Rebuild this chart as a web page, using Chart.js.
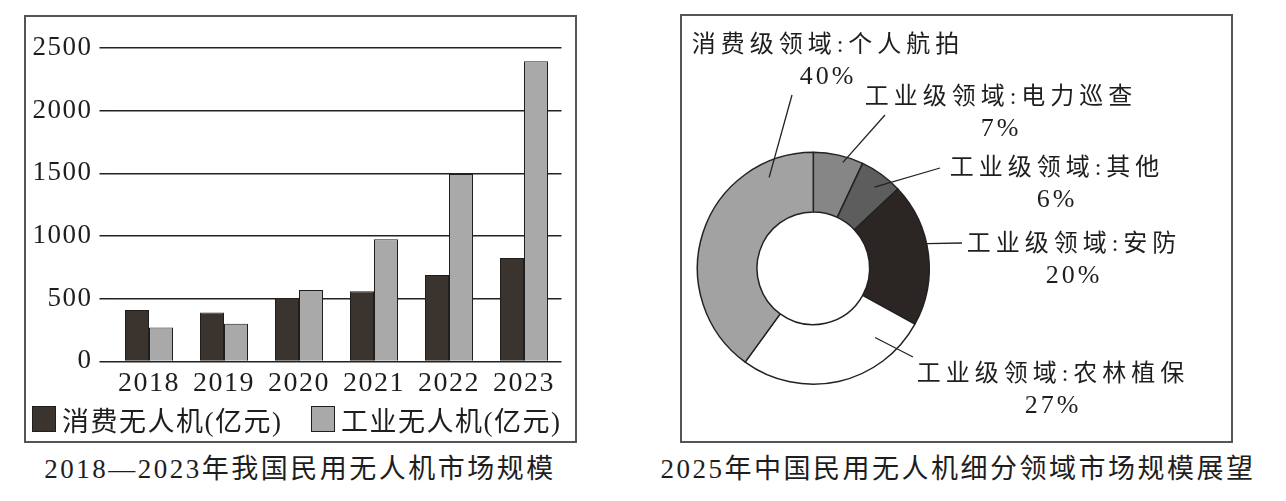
<!DOCTYPE html>
<html lang="zh-CN">
<head>
<meta charset="utf-8">
<title>民用无人机市场规模</title>
<script src="https://cdn.jsdelivr.net/npm/chart.js@4.4.1/dist/chart.umd.min.js"></script>
<style>
  html, body { margin: 0; padding: 0; background: #fff; }
  body { position: relative; width: 1286px; height: 501px; overflow: hidden; }
  .frame { position: absolute; box-sizing: border-box; border: 2px solid #555; }
  #barFrame { left: 24px; top: 15px; width: 553px; height: 428px; }
  #pieFrame { left: 680px; top: 14px; width: 553px; height: 429px; }
  canvas { position: absolute; }
  #barChart { left: 26px; top: 17px; }
  #pieChart { left: 682px; top: 16px; }
  #barLegend { position: absolute; left: 32px; top: 403px; display: flex; }
  #barLegend .item { width: 279px; height: 32px; display: flex; align-items: center; white-space: nowrap; }
  #barLegend .swatch { box-sizing: border-box; width: 24px; height: 26px; border: 1px solid; margin-right: 6px; }
  #barLegend .text, .caption {
    color: #1e1e1e; font: 27px "Liberation Serif", "Noto Sans CJK SC", serif;
  }
  #barLegend .text { letter-spacing: 1.5px; }
  .caption {
    position: absolute; top: 453px; height: 32px; line-height: 32px;
    text-align: center; white-space: nowrap; letter-spacing: 2.5px;
  }
  #barCaption { left: 0; width: 600px; }
  #pieCaption { left: 558px; width: 800px; }
</style>
</head>
<body>
<div class="frame" id="barFrame"></div>
<div class="frame" id="pieFrame"></div>
<canvas id="barChart" width="549" height="390"></canvas>
<div id="barLegend"></div>
<canvas id="pieChart" width="549" height="425"></canvas>
<div class="caption" id="barCaption">2018—2023年我国民用无人机市场规模</div>
<div class="caption" id="pieCaption">2025年中国民用无人机细分领域市场规模展望</div>

<script>
// bar chart data
const years = ["2018", "2019", "2020", "2021", "2022", "2023"]
const consumerValues = [410, 390, 500, 560, 690, 825]
const industrialValues = [270, 300, 570, 975, 1495, 2395]
const seriesNames = ["消费无人机(亿元)", "工业无人机(亿元)"]
const yTicks = [0, 500, 1000, 1500, 2000, 2500]

// doughnut data (clockwise from the top)
const segmentNames = ["工业级领域:电力巡查", "工业级领域:其他", "工业级领域:安防", "工业级领域:农林植保", "消费级领域:个人航拍"]
const segmentShares = [7, 6, 20, 27, 40]
const segmentColors = ["#868686", "#5d5d5d", "#2b2523", "#ffffff", "#a2a2a2"]

// where each callout sits: label centre, leader end, and the spot in the arc
// the leader starts from (fraction along the arc, fraction across the ring)
const calloutLayout = [
  { textX: 319, textY: 82, lineEnd: [203, 99], at: [0.62, 0.9] },
  { textX: 375, textY: 153, lineEnd: [258, 152], at: [0.55, 0.76] },
  { textX: 392, textY: 229, lineEnd: [280, 227], at: [0.43, 1.0] },
  { textX: 371, textY: 359, lineEnd: [231, 341], at: [0.2, 0.61] },
  { textX: 146, textY: 30, lineEnd: [110, 79], at: [0.82, 0.75] },
]

const serif = '"Liberation Serif", "Noto Sans CJK SC", serif'
const ink = "#1e1e1e"

// the print has slightly spaced glyphs
const spacingPlugin = {
  id: "spacing",
  beforeLayout(chart) { chart.ctx.letterSpacing = "1.5px" },
  beforeDraw(chart) { chart.ctx.letterSpacing = "1.5px" },
}

// legend built from the chart's own legend items, laid out in html
const htmlLegendPlugin = {
  id: "htmlLegend",
  afterUpdate(chart) {
    const box = document.getElementById("barLegend")
    box.innerHTML = ""
    chart.options.plugins.legend.labels.generateLabels(chart).forEach((item) => {
      const row = document.createElement("div")
      row.className = "item"
      const swatch = document.createElement("span")
      swatch.className = "swatch"
      swatch.style.background = item.fillStyle
      swatch.style.borderColor = item.strokeStyle
      const text = document.createElement("span")
      text.className = "text"
      text.textContent = item.text
      row.append(swatch, text)
      box.append(row)
    })
  },
}

new Chart(document.getElementById("barChart"), {
  type: "bar",
  data: {
    labels: years,
    datasets: [
      { label: seriesNames[0], data: consumerValues, backgroundColor: "#3b332d", borderColor: ink, borderWidth: 1 },
      { label: seriesNames[1], data: industrialValues, backgroundColor: "#a9a9a9", borderColor: ink, borderWidth: 1 },
    ],
  },
  options: {
    responsive: false,
    animation: false,
    datasets: { bar: { categoryPercentage: 0.64, barPercentage: 1 } },
    layout: { padding: { left: 0, right: 13.5, top: 31, bottom: 2 } },
    scales: {
      x: {
        grid: { display: false, drawTicks: false },
        border: { display: false },
        ticks: { padding: 5, color: ink, font: { family: serif, size: 28 } },
      },
      y: {
        min: 0,
        max: 2500,
        afterBuildTicks(scale) { scale.ticks = yTicks.map((v) => ({ value: v })) },
        afterFit(scale) { scale.width = 85.5 },
        grid: { color: "#222", lineWidth: 1.5, tickLength: 12 },
        border: { display: false },
        ticks: { padding: 7, color: ink, font: { family: serif, size: 27 }, callback: (v) => String(v) },
      },
    },
    plugins: {
      legend: { display: false },
      tooltip: { enabled: false },
    },
  },
  plugins: [spacingPlugin, htmlLegendPlugin],
})

// labels with leader lines for the doughnut
const calloutPlugin = {
  id: "callouts",
  afterDatasetsDraw(chart) {
    const ctx = chart.ctx
    const arcs = chart.getDatasetMeta(0).data
    ctx.save()
    ctx.strokeStyle = "#222"
    ctx.lineWidth = 1.3
    ctx.fillStyle = ink
    ctx.textAlign = "center"
    ctx.textBaseline = "middle"
    arcs.forEach((arc, i) => {
      const p = arc.getProps(["x", "y", "startAngle", "endAngle", "innerRadius", "outerRadius"], true)
      const c = calloutLayout[i]
      const a = p.startAngle + (p.endAngle - p.startAngle) * c.at[0]
      const r = p.innerRadius + (p.outerRadius - p.innerRadius) * c.at[1]
      ctx.beginPath()
      ctx.moveTo(p.x + Math.cos(a) * r, p.y + Math.sin(a) * r)
      ctx.lineTo(c.lineEnd[0], c.lineEnd[1])
      ctx.stroke()
      ctx.letterSpacing = "5px"
      ctx.font = "24px " + serif
      ctx.fillText(segmentNames[i], c.textX, c.textY)
      ctx.letterSpacing = "3px"
      ctx.font = "26px " + serif
      ctx.fillText(segmentShares[i] + "%", c.textX, c.textY + 31)
    })
    ctx.restore()
  },
}

new Chart(document.getElementById("pieChart"), {
  type: "doughnut",
  data: {
    labels: segmentNames,
    datasets: [
      { data: segmentShares, backgroundColor: segmentColors, borderColor: "#222", borderWidth: 1.5 },
    ],
  },
  options: {
    responsive: false,
    animation: false,
    cutout: "48.6%",
    layout: { padding: { left: 14.6, right: 301, top: 135.6, bottom: 56 } },
    plugins: {
      legend: { display: false },
      tooltip: { enabled: false },
    },
  },
  plugins: [calloutPlugin],
})
</script>
</body>
</html>
